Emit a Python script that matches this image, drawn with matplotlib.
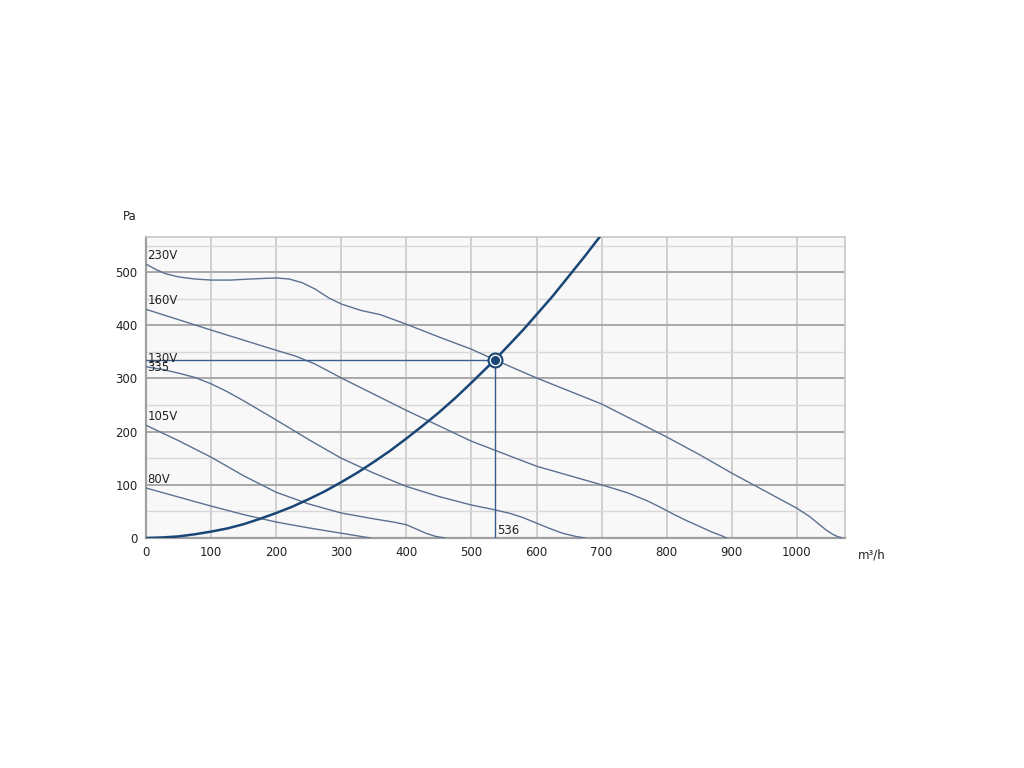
import matplotlib.pyplot as plt
import numpy as np

# fan curves (m3/h, Pa)
q230 = [0, 15, 30, 50, 75, 100, 130, 160, 200, 220, 240, 260, 280, 300, 330, 360, 400, 450, 500, 536, 600, 700, 800, 850, 900, 950, 1000, 1020, 1035, 1045, 1055, 1062, 1070]
p230 = [515, 505, 497, 491, 487, 485, 485, 487, 489, 487, 480, 468, 452, 440, 428, 420, 402, 378, 355, 335, 301, 252, 190, 157, 122, 89, 56, 40, 25, 15, 7, 3, 0]

q160 = [0, 100, 200, 230, 260, 300, 400, 500, 600, 700, 740, 770, 790, 810, 830, 850, 870, 885, 892]
p160 = [430, 391, 353, 342, 327, 301, 240, 182, 135, 100, 85, 70, 58, 45, 33, 22, 11, 4, 0]

q130 = [0, 25, 50, 75, 100, 125, 150, 200, 250, 300, 350, 400, 450, 500, 536, 560, 580, 600, 620, 640, 660, 675]
p130 = [322, 317, 310, 302, 290, 275, 258, 222, 185, 150, 122, 97, 78, 62, 53, 46, 38, 28, 18, 9, 3, 0]

q105 = [0, 50, 100, 150, 200, 250, 300, 350, 380, 400, 415, 430, 445, 460]
p105 = [212, 183, 152, 117, 86, 64, 47, 36, 30, 25, 17, 9, 3, 0]

q80 = [0, 50, 100, 150, 200, 250, 300, 320, 335, 345]
p80 = [94, 77, 60, 44, 30, 19, 9, 5, 2, 0]

labels = ['230V', '160V', '130V', '105V', '80V']
label_y = [515, 430, 322, 212, 94]

# system curve points
qsys = [0, 25, 50, 75, 100, 125, 150, 175, 200, 225, 250, 275, 300, 325, 350, 375, 400, 425, 450, 475, 500, 536, 560, 580, 600, 625, 650, 675, 697]
psys = [0, 1, 3, 7, 12, 18, 26, 36, 47, 59, 73, 88, 105, 123, 143, 164, 187, 211, 236, 263, 292, 335, 366, 392, 420, 455, 493, 531, 566]

op_q, op_p = 536, 335

fig = plt.figure(figsize=(10.24, 7.68), dpi=100)
ax = fig.add_axes([146/1024, 1-538/768, (845-146)/1024, (538-237)/768])
ax.set_facecolor('#f8f8f8')
ax.set_xlim(0, 1074)
ax.set_ylim(0, 566)

for x in range(100, 1100, 100):
    ax.axvline(x, color='#c8c8c8', lw=1.2, zorder=1)
for y in range(50, 600, 100):
    ax.axhline(y, color='#d8d8d8', lw=1.0, zorder=1)
for y in range(100, 600, 100):
    ax.axhline(y, color='#a8a8a8', lw=1.4, zorder=1)

fan_col = '#5b7190'
for q, p in [(q230, p230), (q160, p160), (q130, p130), (q105, p105), (q80, p80)]:
    ax.plot(q, p, color=fan_col, lw=1.0, zorder=3)

for lab, y in zip(labels, label_y):
    ax.text(2, y + 4, lab, fontsize=8.5, color='#222222', va='bottom', ha='left', zorder=5)

ax.plot(qsys, psys, color='#1a4676', lw=1.8, zorder=4)

op_col = '#3a5e8c'
ax.plot([0, op_q], [op_p, op_p], color=op_col, lw=1.0, zorder=4)
ax.plot([op_q, op_q], [0, op_p], color=op_col, lw=1.0, zorder=4)
ax.plot(op_q, op_p, 'o', ms=10, mfc='white', mec='#1a4676', mew=1.5, zorder=6)
ax.plot(op_q, op_p, 'o', ms=5.5, mfc='#1a4676', mec='#1a4676', zorder=7)
ax.text(2, op_p - 2, str(op_p), fontsize=8.5, color='#222222', va='top', ha='left', zorder=5)
ax.text(op_q + 3, 2, str(op_q), fontsize=8.5, color='#222222', va='bottom', ha='left', zorder=5)

ax.set_xticks(range(0, 1100, 100))
ax.set_yticks(range(0, 600, 100))
ax.tick_params(length=0, labelsize=8.5, colors='#222222', pad=6)
for s in ['top', 'right']:
    ax.spines[s].set_color('#c8c8c8')
    ax.spines[s].set_linewidth(1.2)
for s in ['left', 'bottom']:
    ax.spines[s].set_color('#a0a0a0')
    ax.spines[s].set_linewidth(1.6)

fig.text(123/1024, 1-217/768, 'Pa', fontsize=8.5, color='#222222', va='center')
fig.text(858/1024, 1-555/768, 'm³/h', fontsize=8.5, color='#222222', va='center')

plt.savefig('out.png', dpi=100)
